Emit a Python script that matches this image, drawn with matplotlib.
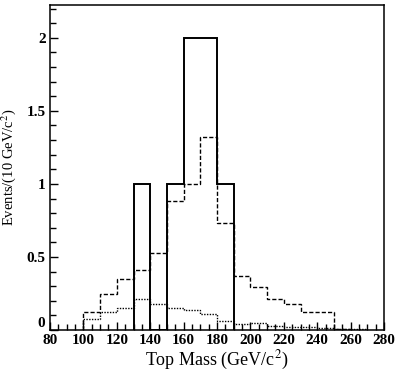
import matplotlib
matplotlib.use("Agg")
import matplotlib.pyplot as plt
from matplotlib.ticker import MultipleLocator

# data
data_edges = [130, 140, 150, 160, 170, 180, 190]
data_counts = [1, 0, 1, 2, 2, 1]

sig_edges = list(range(100, 270, 10))
sig_counts = [0.12, 0.245, 0.35, 0.41, 0.53, 0.88, 1.0, 1.32, 0.735,
              0.37, 0.295, 0.212, 0.18, 0.12, 0.12, 0.01]

bkg_edges = list(range(100, 280, 10))
bkg_counts = [0.073, 0.125, 0.15, 0.21, 0.176, 0.15, 0.137, 0.11, 0.06,
              0.043, 0.05, 0.027, 0.023, 0.02, 0.013, 0.008, 0.004]

plt.rcParams['font.family'] = ['Liberation Serif', 'DejaVu Serif']
plt.rcParams['mathtext.fontset'] = 'stix'

fig = plt.figure(figsize=(3.98, 3.72), dpi=100)
ax = fig.add_axes([0.1256, 0.113, 0.8394, 0.8736])

ax.stairs(data_counts, data_edges, color='black', linewidth=1.4, baseline=0)
ax.stairs(sig_counts, sig_edges, color='black', linewidth=1.0,
          linestyle=(0, (3, 1.5)), baseline=0)
ax.stairs(bkg_counts, bkg_edges, color='black', linewidth=1.0,
          linestyle=(0, (1, 1)), baseline=0)

ax.set_xlim(80, 280)
ax.set_ylim(0, 2.225)
ax.xaxis.set_major_locator(MultipleLocator(20))
ax.xaxis.set_minor_locator(MultipleLocator(5))
ax.yaxis.set_major_locator(MultipleLocator(0.5))
ax.yaxis.set_minor_locator(MultipleLocator(0.1))
# zero label is drawn separately, a bit above the corner like the original
ax.yaxis.set_major_formatter(plt.FuncFormatter(lambda v, p: "" if v == 0 else f"{v:g}"))
ax.tick_params(which='both', direction='in', top=False, right=False)
ax.tick_params(which='major', length=6, width=1, labelsize=11, pad=3)
ax.tick_params(which='minor', length=4, width=1)
for lbl in ax.get_xticklabels() + ax.get_yticklabels():
    lbl.set_fontweight('bold')
ax.text(-0.015, 0.0, "0", transform=ax.get_yaxis_transform(), ha='right',
        va='bottom', fontsize=11, fontweight='bold')
for s in ax.spines.values():
    s.set_linewidth(1.1)

ax.set_xlabel("Top Mass (GeV/c$^2$)", fontsize=13, labelpad=1)
ax.set_ylabel("Events/(10 GeV/c$^2$)", fontsize=10.5, labelpad=6)

fig.savefig("out.png", dpi=100)
